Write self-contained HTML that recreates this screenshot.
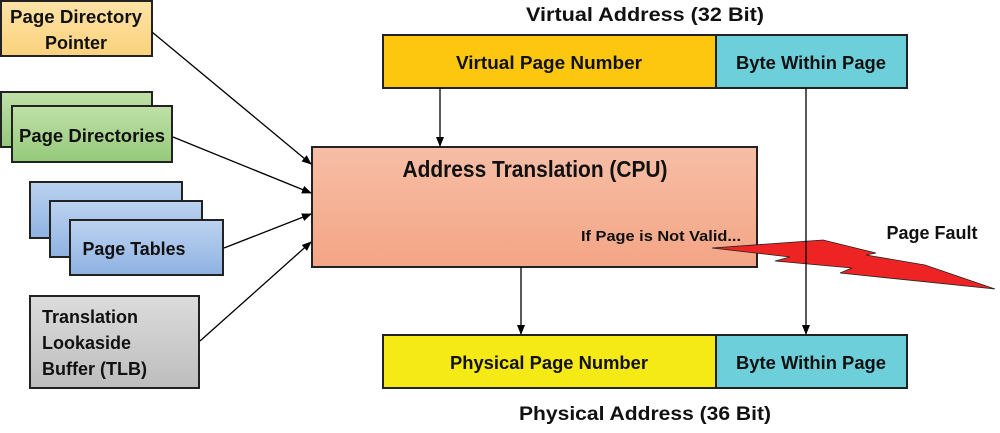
<!DOCTYPE html>
<html><head><meta charset="utf-8"><style>
body{margin:0;background:#fff}
svg text{font-family:"Liberation Sans",sans-serif;font-weight:bold;fill:#111}
</style></head><body>
<svg width="1000" height="428" viewBox="0 0 1000 428" xmlns="http://www.w3.org/2000/svg">
<defs>
<linearGradient id="gy" x1="0" y1="0" x2="0" y2="1"><stop offset="0" stop-color="#fde3a6"/><stop offset="1" stop-color="#fbd27e"/></linearGradient>
<linearGradient id="gg" x1="0" y1="0" x2="0" y2="1"><stop offset="0" stop-color="#bfe0a8"/><stop offset="1" stop-color="#95c97a"/></linearGradient>
<linearGradient id="gb" x1="0" y1="0" x2="0" y2="1"><stop offset="0" stop-color="#bcd3f0"/><stop offset="1" stop-color="#8fb2e2"/></linearGradient>
<linearGradient id="gr" x1="0" y1="0" x2="0" y2="1"><stop offset="0" stop-color="#dcdcdc"/><stop offset="1" stop-color="#bdbdbd"/></linearGradient>
<linearGradient id="gc" x1="0" y1="0" x2="0" y2="1"><stop offset="0" stop-color="#f7bea6"/><stop offset="1" stop-color="#f3a585"/></linearGradient>
<marker id="ar" markerWidth="10" markerHeight="8" refX="9" refY="4" orient="auto" markerUnits="userSpaceOnUse"><path d="M0,0 L10,4 L0,8 Z" fill="#000"/></marker>
</defs>
<g stroke="#222" stroke-width="2">
<rect x="1" y="1" width="151" height="55" fill="url(#gy)"/>
<rect x="1" y="92" width="151" height="55" fill="url(#gg)"/>
<rect x="12" y="106" width="160" height="56" fill="url(#gg)"/>
<rect x="30" y="182" width="152" height="56" fill="url(#gb)"/>
<rect x="50" y="201" width="152" height="56" fill="url(#gb)"/>
<rect x="70" y="220" width="153" height="55" fill="url(#gb)"/>
<rect x="30" y="296" width="169" height="92" fill="url(#gr)"/>
<rect x="312" y="147" width="445" height="120" fill="url(#gc)"/>
<rect x="383" y="35" width="333" height="53" fill="#fcc70e"/>
<rect x="716" y="35" width="191" height="53" fill="#6ccfd9"/>
<rect x="383" y="335" width="333" height="53" fill="#f6ea16"/>
<rect x="716" y="335" width="191" height="53" fill="#6ccfd9"/>
</g>
<polygon points="712,248 823,240 876,253 866,255 925,265 995,289 840,273 852,268 775,261 790,257" fill="#ee2424" stroke="#222" stroke-width="0.8"/>
<g stroke="#000" stroke-width="1.3" marker-end="url(#ar)">
<line x1="152" y1="32" x2="311" y2="164"/>
<line x1="173" y1="137" x2="311" y2="193"/>
<line x1="224" y1="248" x2="311" y2="214"/>
<line x1="200" y1="341" x2="311" y2="242"/>
<line x1="440" y1="88" x2="440" y2="146"/>
<line x1="521" y1="267" x2="521" y2="334"/>
<line x1="806" y1="88" x2="806" y2="334"/>
</g>
<g font-size="18">
<text x="76" y="23" text-anchor="middle" textLength="132" lengthAdjust="spacingAndGlyphs">Page Directory</text>
<text x="76" y="49" text-anchor="middle">Pointer</text>
<text x="92" y="142" text-anchor="middle" textLength="146" lengthAdjust="spacingAndGlyphs">Page Directories</text>
<text x="134" y="255" text-anchor="middle" textLength="103" lengthAdjust="spacingAndGlyphs">Page Tables</text>
<text x="42" y="323">Translation</text>
<text x="42" y="349">Lookaside</text>
<text x="42" y="375">Buffer (TLB)</text>
<text x="549" y="69" text-anchor="middle" textLength="186" lengthAdjust="spacingAndGlyphs">Virtual Page Number</text>
<text x="811" y="69" text-anchor="middle" textLength="150" lengthAdjust="spacingAndGlyphs">Byte Within Page</text>
<text x="549" y="369" text-anchor="middle" textLength="198" lengthAdjust="spacingAndGlyphs">Physical Page Number</text>
<text x="811" y="369" text-anchor="middle" textLength="150" lengthAdjust="spacingAndGlyphs">Byte Within Page</text>
<text x="932" y="239" text-anchor="middle">Page Fault</text>
</g>
<text x="645" y="21" font-size="19" text-anchor="middle" textLength="238" lengthAdjust="spacingAndGlyphs">Virtual Address (32 Bit)</text>
<text x="645" y="420" font-size="19" text-anchor="middle" textLength="252" lengthAdjust="spacingAndGlyphs">Physical Address (36 Bit)</text>
<text x="535" y="177" font-size="23" text-anchor="middle" textLength="265" lengthAdjust="spacingAndGlyphs">Address Translation (CPU)</text>
<text x="741" y="241" font-size="15" text-anchor="end" textLength="160" lengthAdjust="spacingAndGlyphs">If Page is Not Valid...</text>
</svg>
</body></html>
